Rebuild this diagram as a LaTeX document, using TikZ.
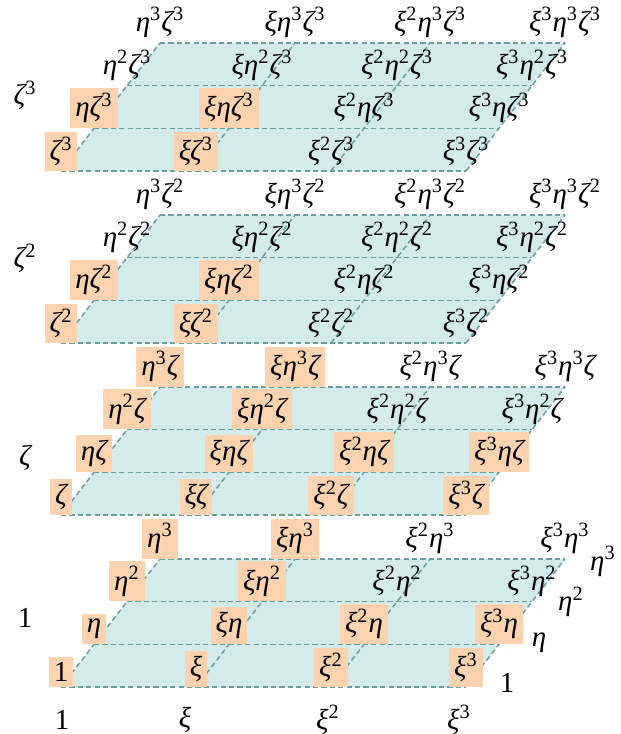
\documentclass[tikz,border=0pt]{standalone}
\usepackage{fontspec}
\setmainfont{Liberation Serif}
\definecolor{plate}{HTML}{D4EBEC}
\definecolor{gridc}{HTML}{6E9E9A}
\definecolor{peach}{HTML}{FCD3AE}
\newcommand\pw[1]{\textsuperscript{\upshape#1}}
\tikzset{
  mono/.style={anchor=south, inner xsep=2.5pt, inner ysep=2.5pt, font=\fontsize{14.5}{17}\selectfont\itshape},
  side/.style={font=\fontsize{14.5}{17}\selectfont\itshape},
  gridline/.style={gridc, line width=0.75pt, dash pattern=on 2.6pt off 1.6pt}
}
\begin{document}
\begin{tikzpicture}[x=0.5pt,y=-0.5pt]
  \useasboundingbox (0,0) rectangle (621,734);
  \def\dx{135} \def\sx{33} \def\sy{42.67}
  % Ebenen
  \foreach \k/\zs in {0/,1/ζ,2/ζ\pw{2},3/ζ\pw{3}} {
    \pgfmathsetmacro\B{687-172*\k}
    \fill[plate] (61,\B) -- ++(3*\dx,0) -- ++(3*\sx,-3*\sy) -- ++(-3*\dx,0) -- cycle;
    \foreach \j in {0,...,3}
      \draw[gridline] (61+\sx*\j,\B-\sy*\j) -- ++(3*\dx,0);
    \foreach \i in {0,...,3}
      \draw[gridline] (61+\dx*\i,\B) -- ++(3*\sx,-3*\sy);
    % Monome
    \foreach \i/\xs in {0/,1/ξ,2/ξ\pw{2},3/ξ\pw{3}}
      \foreach \j/\ys in {0/,1/η,2/η\pw{2},3/η\pw{3}} {
        \pgfmathtruncatemacro\hl{(\k<2 && (\i<2 || \j<2)) || (\k>1 && \i<2 && \j<2)}
        \ifnum\hl=1 \def\fc{peach}\else\def\fc{none}\fi
        \node[mono, fill=\fc] (m\i\j\k) at (61+\dx*\i+\sx*\j,\B-\sy*\j)
          {\ifnum\numexpr\i+\j+\k\relax=0 \upshape 1\else\xs\ys\zs\fi};
      }
  }
  % Achsen
  \foreach \k/\t/\y in {0/{\upshape 1}/618, 1/ζ/458, 2/ζ\pw{2}/258, 3/ζ\pw{3}/95}
    \node[side] (z\k) at (25,\y) {\t};
  \foreach \i/\t/\x in {0/{\upshape 1}/62, 1/ξ/185, 2/ξ\pw{2}/328, 3/ξ\pw{3}/459}
    \node[side] (x\i) at (\x,720) {\t};
  \foreach \j/\t in {0/{\upshape 1},1/η,2/η\pw{2},3/η\pw{3}}
    \node[side] (y\j) at (507+32*\j,683-40.5*\j) {\t};
\end{tikzpicture}
\end{document}
